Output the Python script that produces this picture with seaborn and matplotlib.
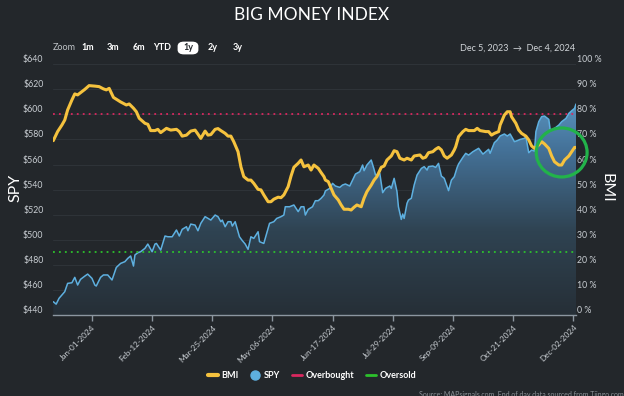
import numpy as np
import pandas as pd
import matplotlib
matplotlib.use('Agg')
import matplotlib.pyplot as plt
import matplotlib.dates as mdates
from matplotlib.colors import LinearSegmentedColormap
from matplotlib.patches import Ellipse, FancyBboxPatch
from matplotlib.lines import Line2D
import seaborn as sns

# ===================== data =====================
START = pd.Timestamp('2023-12-05')

# SPY close, day number counted from Dec 5, 2023
spy_day = [0, 2, 4, 8, 10, 13, 15, 17, 19, 22, 24, 27, 29, 30, 33, 35, 38, 41, 44, 47,
           50, 52, 54, 56, 57, 59, 61, 64, 66, 69, 71, 72, 75, 78, 80, 83, 86, 88, 90, 93,
           94, 96, 99, 101, 103, 106, 108, 110, 113, 115, 117, 118, 120, 122, 124, 125, 127, 130, 132, 134,
           136, 138, 140, 143, 144, 147, 149, 151, 154, 156, 159, 161, 162, 165, 168, 171, 173, 175, 176, 178,
           181, 183, 185, 187, 188, 189, 190, 193, 195, 197, 200, 202, 204, 207, 209, 211, 214, 216, 217, 219,
           222, 224, 225, 228, 230, 232, 235, 236, 238, 240, 241, 243, 244, 245, 247, 248, 250, 252, 254, 257,
           259, 261, 262, 265, 267, 269, 271, 273, 276, 278, 280, 282, 283, 286, 288, 290, 293, 295, 297, 300,
           302, 304, 305, 308, 310, 312, 315, 317, 319, 322, 324, 326, 329, 330, 332, 334, 336, 337, 339, 341,
           343, 346, 347, 349, 351, 353, 355, 358, 360, 362, 364, 365]
spy_price = [450.8, 448.9, 453.5, 458.8, 465.4, 465.9, 470.2, 464.1, 468.6, 471.2, 472.8, 469.4, 464.1, 463.3, 470.2, 472.1, 472.1, 468.1, 478.1, 481.3,
             482.7, 485.3, 487.2, 479.2, 488.0, 489.8, 490.6, 493.3, 496.7, 490.6, 496.7, 497.2, 491.9, 503.1, 502.5, 502.5, 507.9, 503.1, 508.4, 510.5,
             507.3, 512.6, 511.8, 507.3, 513.2, 518.5, 517.1, 515.8, 519.8, 518.5, 514.5, 515.8, 510.5, 514.5, 514.5, 511.0, 514.5, 502.5, 499.4, 496.7,
             492.5, 502.5, 501.2, 506.5, 498.6, 497.2, 505.2, 513.2, 514.5, 517.1, 518.5, 519.8, 526.4, 526.4, 527.8, 522.5, 526.4, 526.4, 519.8, 524.3,
             526.4, 531.2, 531.2, 533.1, 534.4, 535.7, 539.0, 541.0, 545.0, 542.9, 541.8, 543.7, 544.5, 542.9, 547.6, 552.4, 554.3, 559.6, 555.1, 559.6,
             563.6, 556.1, 551.6, 552.9, 537.6, 541.0, 542.9, 541.0, 549.0, 538.4, 526.4, 516.3, 520.6, 517.1, 529.1, 531.7, 533.1, 543.7, 551.6, 556.9,
             558.3, 555.6, 558.3, 558.8, 557.7, 560.9, 550.8, 549.0, 539.2, 547.6, 550.3, 557.7, 560.4, 565.7, 568.9, 567.5, 570.2, 571.5, 572.9, 568.3,
             570.2, 572.1, 568.9, 577.4, 579.5, 582.7, 584.3, 582.7, 584.3, 578.2, 579.0, 580.0, 580.8, 582.1, 569.4, 571.5, 570.7, 586.1, 594.1, 598.1,
             598.6, 595.9, 587.4, 588.0, 589.6, 591.4, 594.1, 596.7, 600.7, 602.8, 604.7, 608.1]

# Big Money Index (%), day number counted from Dec 5, 2023
bmi_day = [0, 3, 6, 8, 10, 13, 15, 17, 20, 22, 25, 29, 32, 35, 37, 39, 42, 44, 47, 51,
           53, 56, 58, 60, 64, 66, 68, 71, 73, 75, 79, 82, 86, 88, 90, 93, 96, 99, 101, 103,
           106, 108, 110, 113, 115, 117, 120, 122, 124, 126, 129, 131, 133, 136, 138, 140, 143, 145, 147, 150,
           152, 154, 157, 159, 161, 164, 166, 168, 171, 173, 175, 178, 180, 182, 185, 187, 189, 190, 192, 194,
           196, 199, 201, 203, 206, 208, 210, 212, 215, 217, 219, 222, 224, 226, 229, 231, 233, 236, 238, 240,
           242, 245, 247, 250, 252, 256, 258, 260, 262, 265, 267, 269, 271, 273, 275, 278, 280, 281, 283, 286,
           288, 290, 294, 296, 298, 302, 304, 306, 308, 311, 312, 315, 317, 319, 320, 323, 325, 327, 330, 332,
           334, 336, 339, 341, 343, 346, 348, 350, 353, 355, 357, 360, 362, 364, 365]
bmi_pct = [69.5, 73.1, 75.7, 77.7, 81.7, 85.7, 88.1, 87.7, 89.0, 89.9, 91.4, 91.2, 91.0, 90.1, 89.7, 90.3, 86.7, 86.0, 84.9, 83.7,
           84.1, 82.4, 81.0, 78.4, 76.4, 76.0, 73.5, 73.5, 74.0, 72.7, 74.4, 73.7, 74.0, 73.1, 71.3, 71.7, 73.3, 73.7, 72.1, 70.4,
           73.3, 71.7, 71.9, 74.0, 74.3, 73.5, 72.4, 71.3, 71.3, 69.1, 65.1, 59.1, 55.2, 53.8, 53.8, 52.5, 50.1, 49.9, 47.9, 45.2,
           45.2, 46.2, 47.0, 46.8, 47.9, 51.2, 55.4, 58.9, 60.5, 61.8, 59.1, 59.8, 57.8, 59.8, 58.5, 56.8, 55.2, 53.8, 53.2, 50.5,
           47.9, 45.9, 43.9, 42.2, 42.2, 41.9, 43.0, 43.9, 43.2, 46.6, 49.2, 51.8, 53.8, 55.2, 58.9, 59.4, 61.8, 63.4, 65.5, 65.1,
           62.5, 61.8, 62.5, 61.8, 63.4, 63.8, 62.5, 62.9, 64.7, 65.1, 66.1, 66.8, 65.8, 63.4, 62.5, 63.8, 65.8, 67.1, 71.1, 73.1,
           74.0, 73.5, 73.5, 74.4, 73.5, 73.1, 73.1, 71.7, 72.4, 73.1, 75.7, 79.7, 81.0, 81.0, 79.0, 76.4, 73.7, 72.4, 71.3, 69.8,
           67.4, 66.4, 67.8, 69.1, 68.2, 66.4, 63.4, 61.1, 59.8, 59.8, 61.8, 63.4, 65.1, 66.8, 66.8]

OVERBOUGHT = 80
OVERSOLD = 25
tick_dates = ['2024-01-01', '2024-02-12', '2024-03-25', '2024-05-06', '2024-06-17',
              '2024-07-29', '2024-09-09', '2024-10-21', '2024-12-02']
spy_ticks = list(range(440, 641, 20))
bmi_ticks = list(range(0, 101, 10))
zoom_buttons = ['1m', '3m', '6m', 'YTD', '1y', '2y', '3y']
zoom_btn_x = [88, 113, 139, 162, 188, 213, 238]   # px, centre of each label

# highlight circle (annotation)
CIRCLE_DAY, CIRCLE_PCT, CIRCLE_W_DAYS, CIRCLE_H_PCT = 355, 64.8, 35.5, 19.5

# ===================== style =====================
BG = '#23272b'
GRID = '#2e3338'
TXT = '#c9ced3'
C_BMI = '#f5c23e'
C_SPY = '#5eb0e0'
C_OB = '#d9285f'
C_OS = '#2cc12c'

sns.set_theme(style='dark', rc={'axes.facecolor': BG, 'figure.facecolor': BG})
plt.rcParams['font.family'] = ['Lato', 'DejaVu Sans']

spy = pd.DataFrame({'date': START + pd.to_timedelta(spy_day, unit='D'), 'SPY': spy_price})
bmi = pd.DataFrame({'date': START + pd.to_timedelta(bmi_day, unit='D'), 'BMI': bmi_pct})

W, H = 624, 396
fig = plt.figure(figsize=(W / 100, H / 100), dpi=100, facecolor=BG)
ax = fig.add_axes([53.3 / W, 1 - 315.3 / H, (576 - 53.3) / W, (315.3 - 64) / H])
ax.set_facecolor(BG)

# ----- SPY: gradient area + line -----
poly = ax.fill_between(spy['date'], spy['SPY'], 440, color='none', lw=0)
cmap = LinearSegmentedColormap.from_list('spy', ['#262f37', '#2f4352', '#45739a', '#6aaedc'])
x0, x1 = mdates.date2num(spy['date'].iloc[0]), mdates.date2num(spy['date'].iloc[-1])
grad = np.linspace(0, 1, 256).reshape(-1, 1)
im = ax.imshow(grad, aspect='auto', extent=[x0, x1, 440, 640], origin='lower', cmap=cmap, zorder=1)
im.set_clip_path(poly.get_paths()[0], transform=ax.transData)
sns.lineplot(data=spy, x='date', y='SPY', ax=ax, color=C_SPY, linewidth=1.1, zorder=2)

ax.set_xlim(x0, x1)
ax.set_ylim(440, 640)
ax.set_yticks(spy_ticks)
ax.set_yticklabels([f'${v}' for v in spy_ticks])
ax.grid(axis='y', color=GRID, linewidth=0.8, zorder=0)
ax.grid(axis='x', visible=False)
ax.set_axisbelow(True)
ax.set_xlabel('')
ax.set_ylabel('')

ax.set_xticks(pd.to_datetime(tick_dates))
ax.xaxis.set_major_formatter(mdates.DateFormatter('%b-%d-%Y'))
for lbl in ax.get_xticklabels():
    lbl.set_rotation(45)
    lbl.set_ha('right')
    lbl.set_rotation_mode('anchor')
ax.tick_params(axis='x', colors='#8c96a0', labelcolor=TXT, labelsize=5.9, length=4, width=1,
               direction='out', bottom=True, pad=2)
ax.tick_params(axis='y', labelcolor=TXT, labelsize=6.3, length=0, pad=7)
for lbl in ax.get_yticklabels():
    lbl.set_va('bottom')
for s in ['left', 'right', 'top']:
    ax.spines[s].set_visible(False)
ax.spines['bottom'].set_color('#8c96a0')
ax.spines['bottom'].set_linewidth(1)

# ----- BMI on right axis -----
ax2 = ax.twinx()
ax2.axhline(OVERBOUGHT, color=C_OB, linewidth=1.3, linestyle=(0, (1, 2.3)), zorder=1)
ax2.axhline(OVERSOLD, color=C_OS, linewidth=1.3, linestyle=(0, (1, 2.3)), zorder=1)
sns.lineplot(data=bmi, x='date', y='BMI', ax=ax2, color=C_BMI, linewidth=2.2, zorder=3)
ax2.set_ylim(0, 100)
ax2.set_xlim(x0, x1)
ax2.set_yticks(bmi_ticks)
ax2.set_yticklabels([f'{v} %' for v in bmi_ticks])
ax2.tick_params(axis='y', labelcolor=TXT, labelsize=6.3, length=0, pad=1)
for lbl in ax2.get_yticklabels():
    lbl.set_va('bottom')
ax2.set_ylabel('')
ax2.set_xlabel('')
ax2.grid(False)
for s in ax2.spines.values():
    s.set_visible(False)

ax2.add_patch(Ellipse((mdates.date2num(START) + CIRCLE_DAY, CIRCLE_PCT), CIRCLE_W_DAYS, CIRCLE_H_PCT,
                      fill=False, edgecolor='#22b34a', linewidth=2.3, zorder=5, clip_on=False))

# ----- titles / labels -----
fig.text(0.5, 1 - 15 / H, 'BIG MONEY INDEX', ha='center', va='center', color='white', fontsize=12.5)
fig.text(15 / W, 1 - 188 / H, 'SPY', ha='center', va='center', rotation=90, color='white', fontsize=11.5)
fig.text(607 / W, 1 - 188 / H, 'BMI', ha='center', va='center', rotation=270, color='white', fontsize=11.5)

# zoom selector row
fig.text(53 / W, 1 - 48 / H, 'Zoom', ha='left', va='center', color='#c0c4c8', fontsize=6.5)
fig.patches.append(FancyBboxPatch((179 / W, 1 - 53 / H), 18 / W, 10 / H,
                                  boxstyle='round,pad=0,rounding_size=0.008', transform=fig.transFigure,
                                  fc='white', ec='white', lw=2, figure=fig))
for lab, xp in zip(zoom_buttons, zoom_btn_x):
    fig.text(xp / W, 1 - 48 / H, lab, ha='center', va='center',
             color=BG if lab == '1y' else 'white', fontsize=6.5, fontweight='bold', zorder=3)
fig.text(575 / W, 1 - 48 / H, 'Dec 5, 2023  \u2192  Dec 4, 2024', ha='right', va='center',
         color='#d0d4d8', fontsize=6.5)

# ----- legend -----
handles = [Line2D([], [], color=C_BMI, lw=3),
           Line2D([], [], color=C_SPY, lw=0, marker='o', markersize=6.5),
           Line2D([], [], color=C_OB, lw=2),
           Line2D([], [], color=C_OS, lw=2)]
leg = fig.legend(handles, ['BMI', 'SPY', 'Overbought', 'Oversold'], loc='center',
                 bbox_to_anchor=(0.5, 1 - 376 / H), ncol=4, frameon=False, fontsize=6.5,
                 handlelength=1.1, handletextpad=0.4, columnspacing=1.3)
for t in leg.get_texts():
    t.set_color('white')
    t.set_fontweight('bold')

fig.text(419 / W, 1 - 394 / H, 'Source: MAPsignals.com. End of day data sourced from Tiingo.com',
         ha='left', va='center', color='#8a9096', fontsize=5)

fig.savefig('out.png', dpi=100, facecolor=BG)
